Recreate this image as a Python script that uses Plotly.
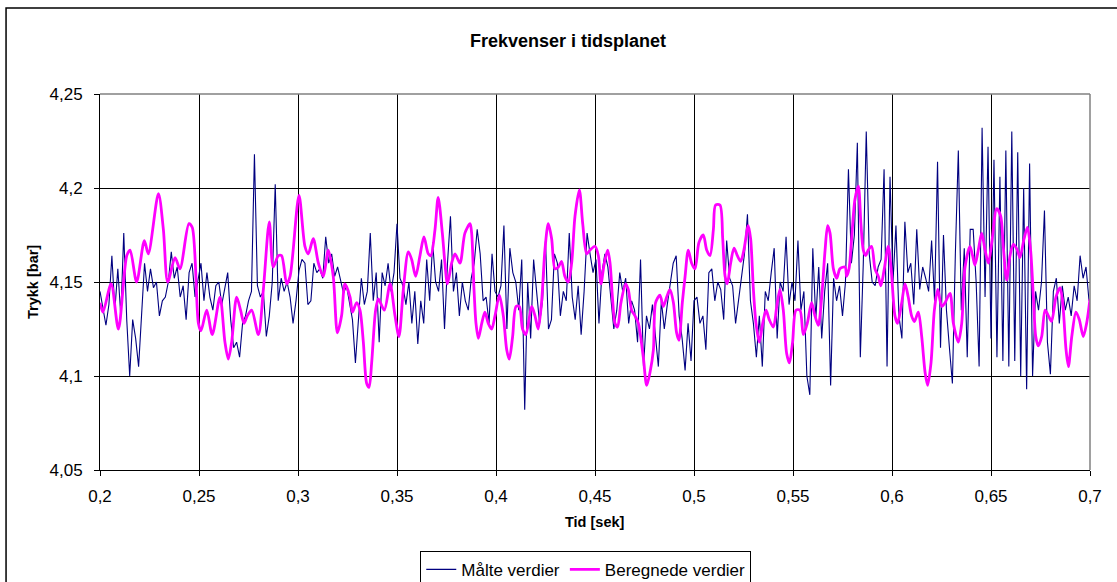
import numpy as np
import plotly.graph_objects as go

# ---------------- data ----------------
# Measured values (blue), sampled every 1.5 ms starting at t = 0.2 s
maalte_verdier = [
    4.145, 4.135, 4.127, 4.138, 4.164, 4.135, 4.157, 4.132, 4.176, 4.130,
    4.100, 4.130, 4.120, 4.105, 4.130, 4.160, 4.145, 4.157, 4.147, 4.150,
    4.132, 4.140, 4.142, 4.150, 4.166, 4.152, 4.158, 4.142, 4.148, 4.130,
    4.155, 4.160, 4.142, 4.150, 4.160, 4.140, 4.155, 4.142, 4.135, 4.148,
    4.150, 4.138,
    4.146, 4.155, 4.130, 4.115, 4.118, 4.110, 4.128, 4.132, 4.140, 4.145,
    4.218, 4.148, 4.142, 4.145, 4.121, 4.132, 4.150, 4.202, 4.140, 4.152,
    4.145, 4.150, 4.142, 4.128, 4.140, 4.156, 4.162, 4.160, 4.138, 4.140,
    4.160, 4.155, 4.157, 4.152, 4.174, 4.160, 4.165, 4.153, 4.158, 4.150,
    4.144, 4.148,
    4.140, 4.130, 4.107, 4.128, 4.152, 4.138, 4.145, 4.176, 4.140, 4.155,
    4.118, 4.155, 4.148, 4.160, 4.145, 4.155, 4.181, 4.152, 4.148, 4.138,
    4.150, 4.128, 4.145, 4.117, 4.140, 4.128, 4.162, 4.140, 4.171, 4.150,
    4.145, 4.162, 4.125, 4.160, 4.185, 4.145, 4.155, 4.132, 4.150, 4.140,
    4.135, 4.152,
    4.160, 4.178, 4.165, 4.140, 4.142, 4.128, 4.165, 4.145, 4.142, 4.148,
    4.180, 4.125, 4.168, 4.155, 4.150, 4.135, 4.162, 4.082, 4.150, 4.120,
    4.162, 4.145, 4.128, 4.140, 4.172, 4.125, 4.130, 4.165, 4.160, 4.132,
    4.145, 4.140, 4.176, 4.142, 4.130, 4.148, 4.122, 4.145, 4.176, 4.165,
    4.155, 4.162,
    4.128, 4.155, 4.165, 4.158, 4.140, 4.125, 4.135, 4.155, 4.145, 4.152,
    4.128, 4.140, 4.135, 4.118, 4.162, 4.105, 4.132, 4.125, 4.138, 4.120,
    4.105, 4.140, 4.125, 4.138, 4.148, 4.160, 4.164, 4.132, 4.120, 4.103,
    4.128, 4.108, 4.140, 4.142, 4.128, 4.132, 4.114, 4.155, 4.157, 4.140,
    4.150, 4.146,
    4.130, 4.172, 4.152, 4.148, 4.128, 4.140, 4.152, 4.165, 4.186, 4.140,
    4.128, 4.110, 4.132, 4.105, 4.145, 4.140, 4.155, 4.168, 4.120, 4.150,
    4.145, 4.174, 4.138, 4.150, 4.140, 4.172, 4.135, 4.145, 4.100, 4.090,
    4.168, 4.130, 4.158, 4.120, 4.145, 4.160, 4.095, 4.152, 4.140, 4.148,
    4.132, 4.150,
    4.210, 4.160, 4.175, 4.224, 4.110, 4.160, 4.230, 4.165, 4.150, 4.148,
    4.158, 4.162, 4.210, 4.105, 4.206, 4.150, 4.180, 4.132, 4.120, 4.182,
    4.155, 4.160, 4.138, 4.178, 4.146, 4.158, 4.152, 4.145, 4.172, 4.140,
    4.214, 4.115, 4.175, 4.135, 4.115, 4.096, 4.165, 4.220, 4.135, 4.168,
    4.110, 4.178,
    4.178, 4.150, 4.105, 4.232, 4.142, 4.222, 4.120, 4.215, 4.110, 4.206,
    4.108, 4.220, 4.105, 4.230, 4.108, 4.219, 4.100, 4.200, 4.093, 4.213,
    4.100, 4.145, 4.135, 4.150, 4.188, 4.118, 4.101, 4.145, 4.152, 4.128,
    4.148, 4.135, 4.142, 4.132, 4.148, 4.140, 4.164, 4.152, 4.158, 4.140,
]
maalte_start = 0.2
maalte_step = 0.0015
maalte_tid = [maalte_start + i * maalte_step for i in range(len(maalte_verdier))]

# Calculated values (magenta)
beregnede_tid = [
    0.2000, 0.2015, 0.2056, 0.2093, 0.2135, 0.2152, 0.2185, 0.2224, 0.2244, 0.2295,
    0.2320, 0.2342, 0.2379, 0.2404, 0.2449, 0.2466, 0.2497, 0.2510, 0.2539, 0.2567,
    0.2606, 0.2631, 0.2648, 0.2665, 0.2690, 0.2710, 0.2727, 0.2744, 0.2766, 0.2800,
    0.2825, 0.2855, 0.2875, 0.2901, 0.2917, 0.2943, 0.2960, 0.3005, 0.3035, 0.3052,
    0.3077, 0.3103, 0.3128, 0.3153, 0.3178, 0.3199, 0.3220,
    0.3237, 0.3263, 0.3275, 0.3296, 0.3313, 0.3330, 0.3347, 0.3359, 0.3372, 0.3392,
    0.3406, 0.3436, 0.3465, 0.3490, 0.3510, 0.3532, 0.3557, 0.3574, 0.3594, 0.3616,
    0.3636, 0.3658, 0.3671, 0.3692, 0.3708, 0.3729, 0.3742, 0.3755, 0.3776, 0.3793,
    0.3818, 0.3843,
    0.3869, 0.3877, 0.3889, 0.3899, 0.3911, 0.3928, 0.3944, 0.3961, 0.3978, 0.3995,
    0.4017, 0.4037, 0.4054, 0.4067, 0.4084, 0.4101, 0.4118, 0.4134, 0.4151, 0.4180,
    0.4197, 0.4213, 0.4230, 0.4247, 0.4264, 0.4281, 0.4298, 0.4315, 0.4331, 0.4348,
    0.4365, 0.4382, 0.4399, 0.4421, 0.4438, 0.4458, 0.4475,
    0.4500, 0.4517, 0.4530, 0.4547, 0.4564, 0.4576, 0.4588, 0.4601, 0.4614, 0.4631,
    0.4655, 0.4668, 0.4685, 0.4702, 0.4719, 0.4744, 0.4761, 0.4778, 0.4795, 0.4806,
    0.4828, 0.4845, 0.4862, 0.4879, 0.4896, 0.4912, 0.4924, 0.4941, 0.4955, 0.4971,
    0.4988, 0.5005, 0.5025, 0.5047, 0.5064, 0.5081, 0.5098, 0.5109,
    0.5131, 0.5145, 0.5157, 0.5168, 0.5185, 0.5202, 0.5219, 0.5236, 0.5252, 0.5274,
    0.5286, 0.5300, 0.5313, 0.5330, 0.5347, 0.5364, 0.5380, 0.5401, 0.5418, 0.5434,
    0.5451, 0.5468, 0.5482, 0.5498, 0.5515, 0.5535, 0.5552, 0.5572, 0.5594, 0.5611,
    0.5628, 0.5645, 0.5662, 0.5675, 0.5687, 0.5704, 0.5721, 0.5737,
    0.5763, 0.5771, 0.5783, 0.5796, 0.5813, 0.5830, 0.5843, 0.5855, 0.5867, 0.5880,
    0.5897, 0.5914, 0.5931, 0.5944, 0.5961, 0.5981, 0.5995, 0.6015, 0.6028, 0.6049,
    0.6066, 0.6082, 0.6099, 0.6113, 0.6133, 0.6150, 0.6167, 0.6180, 0.6197, 0.6214,
    0.6231, 0.6251, 0.6268, 0.6293, 0.6310, 0.6335, 0.6352, 0.6369,
    0.6394, 0.6407, 0.6419, 0.6436, 0.6453, 0.6470, 0.6487, 0.6504, 0.6529, 0.6549,
    0.6562, 0.6579, 0.6596, 0.6613, 0.6633, 0.6646, 0.6667, 0.6684, 0.6700, 0.6714,
    0.6726, 0.6739, 0.6756, 0.6773, 0.6790, 0.6806, 0.6828, 0.6849, 0.6862, 0.6879,
    0.6891, 0.6908, 0.6929, 0.6946, 0.6966, 0.6983, 0.7000,
]
beregnede_verdier = [
    4.139, 4.134, 4.149, 4.125, 4.164, 4.167, 4.150, 4.172, 4.165, 4.197,
    4.178, 4.150, 4.163, 4.157, 4.181, 4.179, 4.128, 4.124, 4.135, 4.122,
    4.142, 4.118, 4.109, 4.118, 4.142, 4.135, 4.128, 4.132, 4.135, 4.122,
    4.146, 4.182, 4.158, 4.164, 4.164, 4.149, 4.153, 4.196, 4.169, 4.165,
    4.173, 4.160, 4.153, 4.167, 4.153, 4.123, 4.132,
    4.149, 4.142, 4.134, 4.139, 4.135, 4.118, 4.096, 4.094, 4.107, 4.135,
    4.141, 4.135, 4.149, 4.132, 4.121, 4.146, 4.166, 4.162, 4.153, 4.164,
    4.174, 4.165, 4.164, 4.178, 4.195, 4.176, 4.160, 4.149, 4.160, 4.165,
    4.160, 4.176,
    4.181, 4.176, 4.146, 4.128, 4.120, 4.128, 4.134, 4.128, 4.125, 4.132,
    4.143, 4.132, 4.114, 4.109, 4.121, 4.137, 4.137, 4.125, 4.122, 4.137,
    4.132, 4.125, 4.139, 4.167, 4.181, 4.173, 4.157, 4.158, 4.161, 4.153,
    4.150, 4.160, 4.185, 4.199, 4.181, 4.165, 4.167,
    4.169, 4.164, 4.149, 4.160, 4.167, 4.160, 4.142, 4.128, 4.126, 4.139,
    4.149, 4.146, 4.135, 4.132, 4.128, 4.110, 4.095, 4.102, 4.114, 4.139,
    4.143, 4.137, 4.142, 4.146, 4.139, 4.123, 4.119, 4.139, 4.153, 4.167,
    4.160, 4.157, 4.171, 4.175, 4.167, 4.164, 4.178, 4.191,
    4.191, 4.173, 4.153, 4.149, 4.160, 4.168, 4.164, 4.161, 4.167, 4.180,
    4.173, 4.146, 4.128, 4.118, 4.128, 4.135, 4.130, 4.126, 4.137, 4.146,
    4.135, 4.112, 4.107, 4.118, 4.135, 4.135, 4.122, 4.128, 4.139, 4.132,
    4.127, 4.142, 4.167, 4.180, 4.176, 4.157, 4.152, 4.157,
    4.158, 4.153, 4.157, 4.173, 4.194, 4.201, 4.181, 4.167, 4.164, 4.167,
    4.169, 4.157, 4.153, 4.148, 4.157, 4.169, 4.158, 4.132, 4.128, 4.139,
    4.149, 4.142, 4.132, 4.129, 4.134, 4.121, 4.102, 4.095, 4.107, 4.135,
    4.146, 4.137, 4.139, 4.144, 4.128, 4.118, 4.128, 4.158,
    4.169, 4.164, 4.159, 4.167, 4.176, 4.167, 4.160, 4.171, 4.189, 4.185,
    4.169, 4.151, 4.164, 4.170, 4.167, 4.163, 4.173, 4.179, 4.167, 4.142,
    4.121, 4.116, 4.121, 4.135, 4.132, 4.129, 4.142, 4.147, 4.139, 4.114,
    4.105, 4.121, 4.134, 4.130, 4.121, 4.128, 4.141,
]

x_ticks = [0.2, 0.25, 0.3, 0.35, 0.4, 0.45, 0.5, 0.55, 0.6, 0.65, 0.7]
y_ticks = [4.05, 4.1, 4.15, 4.2, 4.25]

FONT = "Liberation Sans, Arial, sans-serif"

fig = go.Figure()
fig.add_trace(go.Scatter(
    x=maalte_tid, y=maalte_verdier, mode="lines", name="Målte verdier",
    line=dict(color="#000080", width=1.1),
))
fig.add_trace(go.Scatter(
    x=beregnede_tid, y=beregnede_verdier, mode="lines", name="Beregnede verdier",
    line=dict(color="#FF00FF", width=2.8, shape="spline", smoothing=0.8),
))

fig.update_layout(
    width=1117, height=582,
    margin=dict(l=100, r=27, t=94, b=112, autoexpand=False),
    paper_bgcolor="white", plot_bgcolor="white",
    separators=", ",
    font=dict(family=FONT, size=17, color="black"),
    showlegend=True,
    legend=dict(
        orientation="h", x=0.3235, y=-0.215, xanchor="left", yanchor="top",
        bordercolor="black", borderwidth=1, bgcolor="white",
        font=dict(family=FONT, size=17, color="black"),
        itemwidth=30, tracegroupgap=0,
    ),
    annotations=[
        dict(text="<b>Frekvenser i tidsplanet</b>", xref="paper", yref="paper",
             x=0.4727, y=1.141, showarrow=False, xanchor="center", yanchor="middle",
             font=dict(family=FONT, size=18, color="black")),
        dict(text="<b>Trykk [bar]</b>", xref="paper", yref="paper",
             x=-0.0677, y=0.5, showarrow=False, textangle=-90,
             xanchor="center", yanchor="middle",
             font=dict(family=FONT, size=14.5, color="black")),
        dict(text="<b>Tid [sek]</b>", xref="paper", yref="paper",
             x=0.5, y=-0.138, showarrow=False, xanchor="center", yanchor="middle",
             font=dict(family=FONT, size=14.5, color="black")),
    ],
    shapes=[
        # outer chart frame
        dict(type="rect", xref="paper", yref="paper", x0=-0.0949, x1=1.05,
             y0=-0.4, y1=1.2287, line=dict(color="black", width=1.5), layer="below"),
        # grey plot-area border (top and right)
        dict(type="line", xref="paper", yref="paper", x0=0, x1=1, y0=1, y1=1,
             line=dict(color="#808080", width=1.5), layer="above"),
        dict(type="line", xref="paper", yref="paper", x0=1, x1=1, y0=0, y1=1,
             line=dict(color="#808080", width=1.5), layer="above"),
    ],
)

fig.update_xaxes(
    range=[0.2, 0.7], tickvals=x_ticks, ticks="outside", ticklen=5,
    tickcolor="black", showline=True, linecolor="black", linewidth=1,
    showgrid=True, gridcolor="black", gridwidth=1, zeroline=False,
    ticklabelstandoff=6, tickfont=dict(family=FONT, size=17),
)
fig.update_yaxes(
    range=[4.05, 4.25], tickvals=y_ticks, ticks="outside", ticklen=5,
    tickcolor="black", showline=True, linecolor="black", linewidth=1,
    showgrid=True, gridcolor="black", gridwidth=1, zeroline=False,
    ticklabelstandoff=8, tickfont=dict(family=FONT, size=17),
)

fig.write_html("out.html")
